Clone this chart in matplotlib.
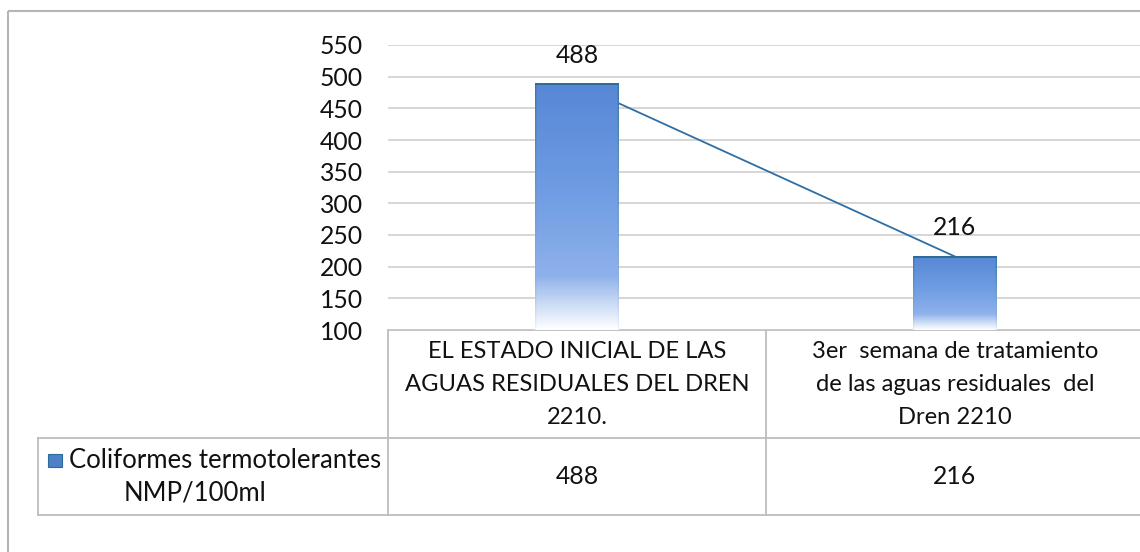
import numpy as np
import matplotlib
matplotlib.use("Agg")
import matplotlib.pyplot as plt
import matplotlib.transforms as mtransforms
from matplotlib.colors import LinearSegmentedColormap
from matplotlib.patches import Rectangle

# data
categories = [
    ["EL ESTADO INICIAL DE LAS", "AGUAS RESIDUALES DEL DREN", "2210."],
    ["3er  semana de tratamiento", "de las aguas residuales  del", "Dren 2210"],
]
values = [488, 216]
series_name = ["Coliformes termotolerantes", "NMP/100ml"]
yticks = [100, 150, 200, 250, 300, 350, 400, 450, 500, 550]

plt.rcParams['font.family'] = ['Lato', 'DejaVu Sans']
FS = 17.8
TXT = '#111111'

fig = plt.figure(figsize=(11.4, 5.52), dpi=100)
W, H = 1140, 552

# overlay in pixel coordinates for frame and table
ov = fig.add_axes([0, 0, 1, 1])
ov.set_xlim(0, W)
ov.set_ylim(H, 0)
ov.axis('off')
ov.patch.set_alpha(0)

ax = fig.add_axes([388 / W, 1 - 330 / H, (1144 - 388) / W, (330 - 45) / H])
ax.patch.set_alpha(0)

x = np.arange(len(values))
bw = 0.22

# gradient for the bar fill: bottom white -> blue at top
grad = LinearSegmentedColormap.from_list(
    'bar', [(0.0, '#ffffff'), (0.07, '#dbe7f8'), (0.22, '#8eb1ea'),
            (0.55, '#709de3'), (1.0, '#5787d6')])
edge = LinearSegmentedColormap.from_list(
    'edge', [(0.0, '#eef4fc'), (0.2, '#8fb1e0'), (1.0, '#3a78a6')])

n = 200
t = np.linspace(0, 1, n)
for xi, v in zip(x, values):
    img = grad(t)[:, None, :].repeat(61, axis=1)
    ecol = edge(t)
    img[:, 0, :] = ecol
    img[:, -1, :] = ecol
    ax.imshow(img, extent=[xi - bw / 2, xi + bw / 2, 100, v], origin='lower',
              aspect='auto', interpolation='bilinear', zorder=3)
    ax.plot([xi - bw / 2, xi + bw / 2], [v, v], color='#2a6d95', lw=1.4, zorder=4,
            solid_capstyle='butt')
    ax.annotate(str(v), (xi, v), xytext=(0, 21), textcoords='offset points',
                ha='center', va='center', fontsize=FS, color=TXT,
                annotation_clip=False, zorder=5)

# line connecting the bar tops
ax.plot(x, values, color='#2e6ea6', lw=1.3, zorder=2)

ax.set_xlim(-0.5, 1.5)
ax.set_ylim(100, 550)
ax.set_yticks(yticks)
ax.set_yticklabels([str(v) for v in yticks], fontsize=FS, color=TXT)
ax.tick_params(axis='y', length=0, pad=18)
ax.set_xticks([])
ax.grid(axis='y', color='#cfcfcf', lw=1.2, zorder=0)
for s in ax.spines.values():
    s.set_visible(False)

# outer chart frame
ov.add_patch(Rectangle((8, 11), 1200, 600, fill=False, edgecolor='#b5b5b5', lw=1.5))

# data table
tc = '#bdbdbd'
ov.plot([388, 1150], [330, 330], color=tc, lw=1.3)
ov.plot([38, 1150], [438, 438], color=tc, lw=1.3)
ov.plot([38, 1150], [515, 515], color=tc, lw=1.3)
ov.plot([38, 38], [438, 515], color=tc, lw=1.3)
for xb in [388, 766]:
    ov.plot([xb, xb], [330, 515], color=tc, lw=1.3)

blend = mtransforms.blended_transform_factory(ax.transData, ov.transData)
for xi, lines, v in zip(x, categories, values):
    for k, line in enumerate(lines):
        ax.text(xi, 351 + 33.5 * k, line, transform=blend, ha='center', va='center',
                fontsize=FS - 0.7, color=TXT)
    ax.text(xi, 477, str(v), transform=blend, ha='center', va='center',
            fontsize=FS, color=TXT)

# legend key + series name
ov.add_patch(Rectangle((48, 454), 14, 13, facecolor='#4f7fc8', edgecolor='#2a6b98', lw=0.8))
ov.text(69, 460, series_name[0], ha='left', va='center', fontsize=FS + 0.7, color=TXT)
ov.text(195, 493, series_name[1], ha='center', va='center', fontsize=FS + 0.7, color=TXT)

fig.savefig('out.png', dpi=100)
